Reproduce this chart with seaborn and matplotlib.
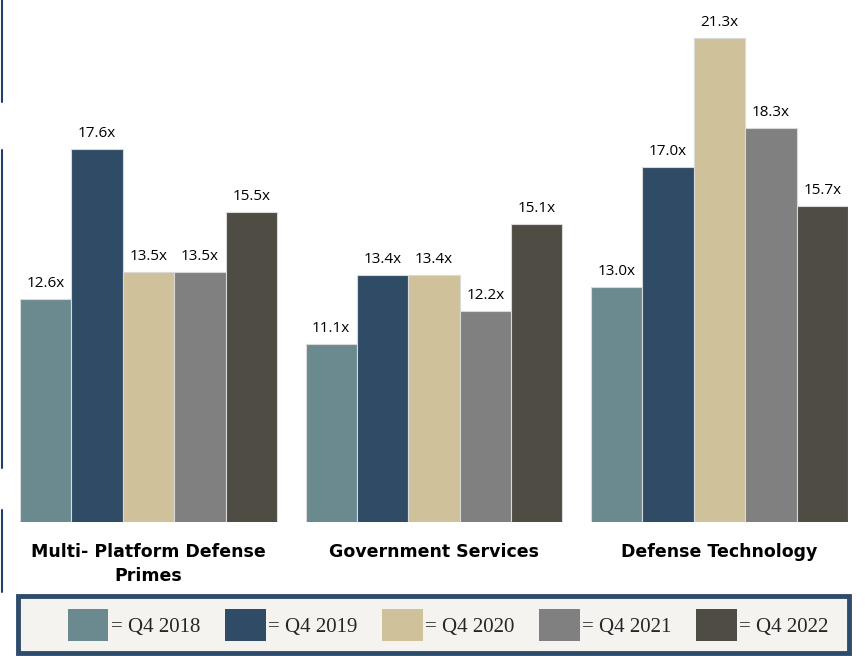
import pandas as pd
import numpy as np
import matplotlib.pyplot as plt
import seaborn as sns
from matplotlib.patches import Patch, Rectangle
from matplotlib.lines import Line2D

# valores (múltiplos EV/EBITDA)
segmentos = ['Multi- Platform Defense\nPrimes', 'Government Services', 'Defense Technology']
trimestres = ['Q4 2018', 'Q4 2019', 'Q4 2020', 'Q4 2021', 'Q4 2022']
q4_2018 = [12.6, 11.1, 13.0]
q4_2019 = [17.6, 13.4, 17.0]
q4_2020 = [13.5, 13.4, 21.3]
q4_2021 = [13.5, 12.2, 18.3]
q4_2022 = [15.5, 15.1, 15.7]
cores = ['#6b8a8f', '#2f4b66', '#cfc19a', '#808080', '#4f4c44']

series = [q4_2018, q4_2019, q4_2020, q4_2021, q4_2022]
linhas = []
for trimestre, valores in zip(trimestres, series):
    for seg, v in zip(segmentos, valores):
        linhas.append({'segmento': seg, 'trimestre': trimestre, 'multiplo': v})
df = pd.DataFrame(linhas)

sns.set_style('white')
plt.rcParams['font.family'] = ['Open Sans', 'DejaVu Sans']

fig = plt.figure(figsize=(8.65, 6.56), dpi=100)
ax = fig.add_axes([20 / 865, 1 - 522 / 656, 828 / 865, 522 / 656])

sns.barplot(data=df, x='segmento', y='multiplo', hue='trimestre', palette=cores,
            width=0.9, gap=0, saturation=1, edgecolor='#d9d9d9', linewidth=0.8,
            ax=ax, legend=False)

for cont in ax.containers:
    ax.bar_label(cont, labels=[f'{v:.1f}x' for v in cont.datavalues],
                 padding=6, fontsize=11, color='black')

ax.set_xlim(-0.45, 2.45)
ax.set_ylim(5.17, 22.57)
ax.set_yticks([])
ax.set_xlabel('')
ax.set_ylabel('')
ax.tick_params(axis='x', length=0, pad=15, colors='black')
for lbl in ax.get_xticklabels():
    lbl.set_fontweight('bold')
    lbl.set_fontsize(12.5)
    lbl.set_family(['DejaVu Sans'])
    lbl.set_linespacing(1.45)
sns.despine(ax=ax, left=True, bottom=True)

# linha azul na borda esquerda (recorte do slide original)
for y0, y1 in [(0, 102), (150, 468), (510, 592)]:
    fig.add_artist(Line2D([1.5 / 865, 1.5 / 865], [1 - y0 / 656, 1 - y1 / 656],
                          color='#1f3d6e', linewidth=1.5))

# caixa da legenda
fig.add_artist(Rectangle((18 / 865, 3 / 656), 831 / 865, 57 / 656,
                         transform=fig.transFigure, facecolor='#f4f3ef',
                         edgecolor='#2f4b6b', linewidth=3.5, zorder=0))

handles = [Patch(facecolor=c, edgecolor='none') for c in cores]
rotulos = [f'= {t}' for t in trimestres]
leg = fig.legend(handles, rotulos, ncol=5, loc='center',
                 bbox_to_anchor=(448 / 865, 1 - 625 / 656),
                 frameon=False,
                 prop={'family': ['Liberation Serif', 'DejaVu Serif'], 'size': 15},
                 handlelength=1.95, handleheight=1.95, handletextpad=0.1,
                 columnspacing=1.2, borderaxespad=0, borderpad=0)

fig.savefig('out.png', dpi=100)
